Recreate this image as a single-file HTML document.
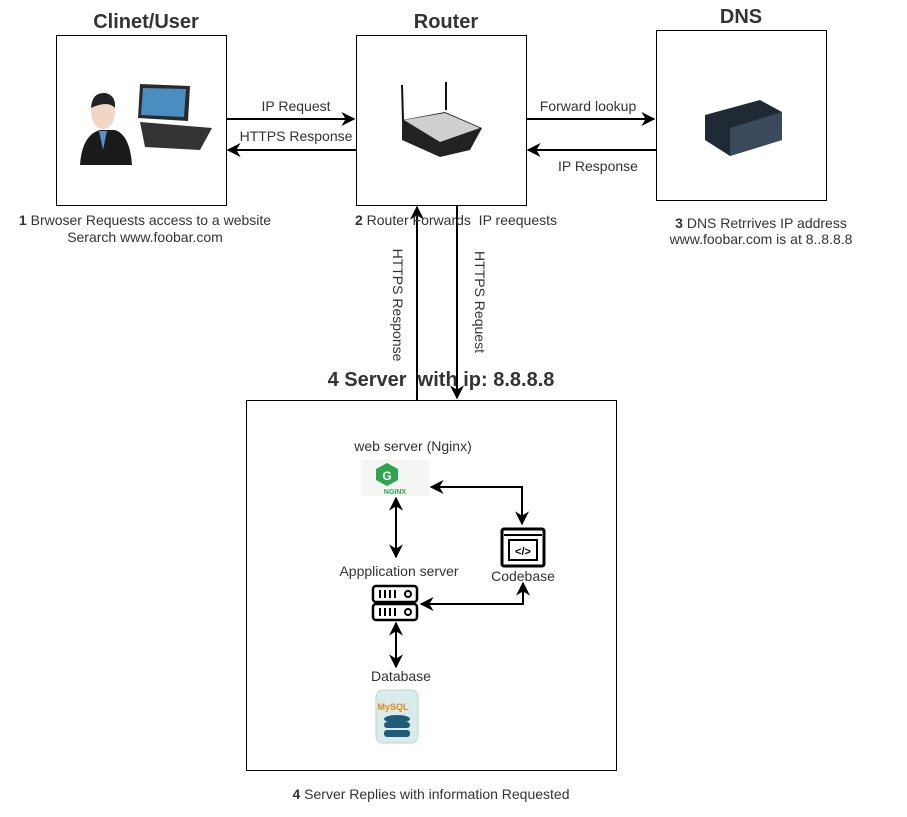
<!DOCTYPE html>
<html><head><meta charset="utf-8"><style>
html,body{margin:0;padding:0;background:#fff;}
svg{display:block;font-family:"Liberation Sans",sans-serif;}
text{white-space:pre;}
</style></head><body>
<svg width="907" height="817" viewBox="0 0 907 817" xmlns="http://www.w3.org/2000/svg">
<defs>
<marker id="a" viewBox="0 0 10 10" refX="9" refY="5" markerWidth="7" markerHeight="7" orient="auto-start-reverse"><path d="M0,0 L10,5 L0,10 L3,5 z" fill="#000"/></marker>
</defs>
<g font-weight="bold" font-size="20" fill="#333" text-anchor="middle">
<text x="146" y="28">Clinet/User</text>
<text x="446" y="28">Router</text>
<text x="741" y="23">DNS</text>
<text x="441" y="386" font-size="20">4 Server  with ip: 8.8.8.8</text>
</g>
<g fill="#fff" stroke="#000" stroke-width="1">
<rect x="56.5" y="35.5" width="170" height="170"/>
<rect x="356.5" y="35.5" width="170" height="170"/>
<rect x="656.5" y="30.5" width="170" height="170"/>
<rect x="246.5" y="400.5" width="370" height="370"/>
</g>
<!-- client icons -->
<path d="M80,165 Q82,135 100,130 L115,130 Q130,135 132,165 Z" fill="#1a1a1a"/>
<ellipse cx="103" cy="112" rx="12" ry="17" fill="#f2d6c4"/>
<path d="M91,108 Q92,92 105,93 Q116,95 115,108 Q108,100 91,108Z" fill="#222"/>
<path d="M99,131 L103,150 L107,131Z" fill="#5a8ec7"/>
<path d="M140,84 L190,86 L188,121 L138,118Z" fill="#2a2a2a"/><path d="M143,88 L186,89 L184,117 L141,115Z" fill="#4a8dc0"/>
<path d="M140,122 L212,128 L200,150 L145,147Z" fill="#333"/>
<!-- router icon -->
<line x1="402" y1="85" x2="403" y2="120" stroke="#111" stroke-width="2"/>
<line x1="446" y1="82" x2="446" y2="110" stroke="#111" stroke-width="2"/>
<path d="M402,120 L445,112 L482,128 L470,150 L440,157 L402,140Z" fill="#222"/>
<path d="M404,120 L445,113 L480,128 L440,142Z" fill="#cfcfcf"/>
<!-- dns icon -->
<path d="M705,115 L760,100 L782,112 L782,140 L730,156 L705,140Z" fill="#1f2a35"/>
<path d="M730,128 L782,112 L782,140 L730,156Z" fill="#3a4a5a"/>
<!-- arrows -->
<g stroke="#000" stroke-width="2" fill="none">
<line x1="227" y1="119" x2="354" y2="119" marker-end="url(#a)"/>
<line x1="356" y1="150" x2="228" y2="150" marker-end="url(#a)"/>
<line x1="527" y1="119" x2="654" y2="119" marker-end="url(#a)"/>
<line x1="656" y1="150" x2="528" y2="150" marker-end="url(#a)"/>
<line x1="417" y1="400" x2="417" y2="207" marker-end="url(#a)"/>
<line x1="457" y1="205" x2="457" y2="398" marker-end="url(#a)"/>
<polyline points="431,487 522,487 522,524" marker-start="url(#a)" marker-end="url(#a)"/>
<line x1="396" y1="498" x2="396" y2="557" marker-start="url(#a)" marker-end="url(#a)"/>
<polyline points="421,604 523,604 523,583" marker-start="url(#a)" marker-end="url(#a)"/>
<line x1="396" y1="623" x2="396" y2="667" marker-start="url(#a)" marker-end="url(#a)"/>
</g>
<g font-size="14" fill="#333" text-anchor="middle">
<text x="296" y="111">IP Request</text>
<text x="296" y="141">HTTPS Response</text>
<text x="588" y="111">Forward lookup</text>
<text x="598" y="171">IP Response</text>
<text x="145" y="225"><tspan font-weight="bold">1</tspan> Brwoser Requests access to a website</text>
<text x="145" y="242">Serarch www.foobar.com</text>
<text x="456" y="225"><tspan font-weight="bold">2</tspan> Router Forwards  IP reequests</text>
<text x="761" y="228"><tspan font-weight="bold">3</tspan> DNS Retrrives IP address</text>
<text x="761" y="244">www.foobar.com is at 8..8.8.8</text>
<text x="431" y="799"><tspan font-weight="bold">4</tspan> Server Replies with information Requested</text>
<text transform="translate(393,305) rotate(90)">HTTPS Response</text>
<text transform="translate(475,302) rotate(90)">HTTPS Request</text>
<text x="413" y="451">web server (Nginx)</text>
<text x="399" y="576">Appplication server</text>
<text x="523" y="581">Codebase</text>
<text x="401" y="681">Database</text>
</g>
<!-- nginx -->
<rect x="361" y="460" width="68" height="36" fill="#f3f6f3"/>
<path d="M387,463 L398,469 L398,480 L387,486 L376,480 L376,469Z" fill="#2ea44f"/>
<text x="387" y="480" font-size="12" font-weight="bold" fill="#fff" text-anchor="middle">G</text>
<text x="395" y="494" font-size="7" font-weight="bold" fill="#2ea44f" text-anchor="middle">NGINX</text>
<!-- codebase -->
<rect x="502" y="529" width="42" height="37" rx="2" fill="#fff" stroke="#000" stroke-width="3"/>
<line x1="504" y1="535" x2="542" y2="535" stroke="#000" stroke-width="2"/>
<rect x="509" y="540" width="28" height="20" fill="#fff" stroke="#000" stroke-width="2"/>
<text x="523" y="555" font-size="11" font-weight="bold" text-anchor="middle">&lt;/&gt;</text>
<!-- app server -->
<rect x="373" y="586" width="44" height="16" rx="3" fill="#fff" stroke="#000" stroke-width="2.5"/>
<rect x="373" y="604" width="44" height="16" rx="3" fill="#fff" stroke="#000" stroke-width="2.5"/>
<circle cx="408" cy="594" r="3" fill="none" stroke="#000" stroke-width="2"/>
<circle cx="408" cy="612" r="3" fill="none" stroke="#000" stroke-width="2"/>
<g stroke="#000" stroke-width="2"><path d="M380,590v8M385,590v8M390,590v8M395,590v8M380,608v8M385,608v8M390,608v8M395,608v8"/></g>
<!-- mysql -->
<rect x="376" y="690" width="42" height="53" rx="7" fill="#d9ece9" stroke="#b9d5d0"/>
<text x="393" y="710" font-size="9" font-weight="bold" fill="#e08a1e" text-anchor="middle">MySQL</text>
<ellipse cx="397" cy="719" rx="13" ry="4" fill="#1e5c78"/>
<rect x="384" y="722" width="26" height="6" rx="3" fill="#1e5c78"/>
<rect x="384" y="730" width="26" height="7" rx="3" fill="#1e5c78"/>
</svg>
</body></html>
